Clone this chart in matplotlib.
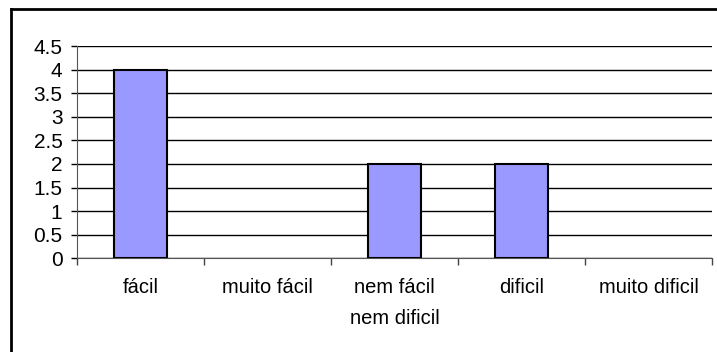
import matplotlib.pyplot as plt
import numpy as np
from matplotlib.lines import Line2D

categories = ['fácil', 'muito fácil', 'nem fácil\nnem dificil', 'dificil', 'muito dificil']
values = [4, 0, 2, 2, 0]
y_ticks = [0, 0.5, 1, 1.5, 2, 2.5, 3, 3.5, 4, 4.5]
y_tick_labels = ['0', '0.5', '1', '1.5', '2', '2.5', '3', '3.5', '4', '4.5']

plt.rcParams['font.family'] = ['Liberation Sans', 'DejaVu Sans']

fig = plt.figure(figsize=(7.17, 3.52), dpi=100)
ax = fig.add_axes([77 / 717, 1 - 258.3 / 352, 635 / 717, (258.3 - 46) / 352])

x = np.arange(len(categories))
# empty categories get no outline, so nothing is drawn for them
edge_widths = [1.5 if v > 0 else 0 for v in values]
ax.bar(x, values, width=0.41, color='#9999FF', edgecolor='black',
       linewidth=edge_widths, zorder=3)

ax.set_xlim(-0.5, len(categories) - 0.5)
ax.set_ylim(0, 4.5)
ax.set_yticks(y_ticks)
ax.set_yticklabels(y_tick_labels)
ax.yaxis.grid(True, color='black', linewidth=1.0, zorder=0)

ax.set_xticks(x)
ax.set_xticklabels(categories, linespacing=1.8)
ax.set_xticks(np.arange(len(categories) + 1) - 0.5, minor=True)
ax.tick_params(axis='x', which='major', length=0, pad=14, labelsize=14.5)
ax.tick_params(axis='x', which='minor', length=5, direction='out', width=1, color='#444444')
ax.tick_params(axis='y', length=4.5, direction='out', width=1, pad=6, labelsize=15)

for side in ('top', 'right'):
    ax.spines[side].set_visible(False)
ax.spines['left'].set_color('#555555')
ax.spines['bottom'].set_color('#555555')

# chart frame: only the left and top edges fall inside the canvas
fig.add_artist(Line2D([11 / 717, 11 / 717], [0, 1 - 9 / 352], transform=fig.transFigure,
                      color='black', linewidth=2))
fig.add_artist(Line2D([11 / 717, 1], [1 - 9 / 352, 1 - 9 / 352], transform=fig.transFigure,
                      color='black', linewidth=2))

fig.savefig('out.png', dpi=100)
